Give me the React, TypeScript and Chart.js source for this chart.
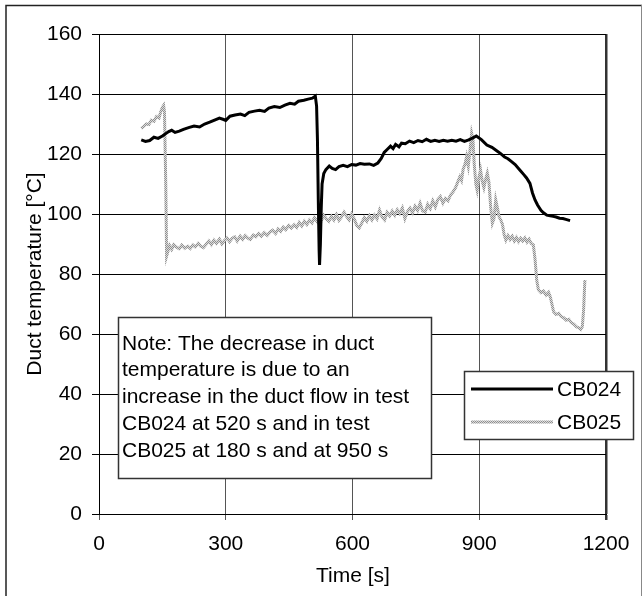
import React, { useEffect, useRef } from "react";
import { Chart, registerables } from "chart.js";

Chart.register(...registerables);

const cb024Time = [
  100, 110, 120, 130, 140, 150, 158, 165, 172, 180, 190, 200, 212, 225, 238, 250, 262, 275, 285, 295,
  300, 310, 322, 335, 345, 355, 368, 380, 392, 402, 415, 428, 440, 452, 463, 472, 485, 495, 505, 512,
  515, 517, 519, 521, 522, 524, 526, 528, 532, 537, 545, 552, 560, 568, 578, 588, 598, 608, 618, 628,
  640, 650, 660, 668, 675, 682, 690, 696, 702, 710, 716, 725, 735, 745, 755, 765, 775, 785, 795, 805,
  815, 825, 835, 845, 855, 865, 875, 885, 893, 905, 918, 930, 942, 950, 960, 968, 975, 985, 996, 1005,
  1012, 1020, 1026, 1032, 1038, 1046, 1052, 1060, 1068, 1075, 1082, 1090, 1098, 1105, 1115,
];
const cb024Temp = [
  124.7, 124.2, 124.5, 125.6, 125.2, 126.0, 126.8, 127.5, 127.9, 127.2, 127.6, 128.2, 128.8, 129.3, 129.0, 130.0, 130.6, 131.4, 132.0, 131.5,
  131.2, 132.6, 133.0, 133.3, 132.8, 133.9, 134.3, 134.6, 134.2, 135.3, 135.8, 135.5, 136.3, 136.9, 136.6, 137.6, 137.9, 138.3, 138.6, 139.3,
  136.0, 125.0, 105.0, 88.0, 83.0, 90.0, 102.0, 110.0, 113.5, 114.8, 116.0, 115.2, 114.8, 115.8, 116.2, 115.8, 116.5, 116.3, 116.8, 116.6,
  116.7, 116.2, 117.0, 118.5, 120.5, 121.5, 122.6, 121.8, 123.2, 122.4, 123.6, 123.4, 124.3, 123.8, 124.5, 124.1, 124.9, 124.2, 124.6, 124.2,
  124.6, 124.3, 124.6, 124.3, 124.8, 124.2, 124.7, 125.4, 126.0, 124.8, 123.0, 122.2, 121.0, 120.2, 119.0, 118.4, 117.6, 116.5, 114.7, 113.2,
  112.0, 110.2, 107.0, 104.7, 103.0, 101.2, 100.4, 99.6, 99.4, 99.2, 99.0, 98.6, 98.5, 98.2, 97.8,
];

const cb025Time = [
  100, 106, 112, 118, 124, 130, 136, 142, 146, 150, 153, 155, 158, 160, 163, 167, 172, 177, 183, 190,
  196, 203, 210, 216, 222, 228, 235, 241, 247, 254, 260, 266, 272, 278, 285, 291, 297, 303, 309, 315,
  321, 327, 334, 340, 346, 352, 358, 365, 371, 378, 384, 391, 398, 405, 411, 418, 424, 430, 436, 442,
  449, 455, 462, 468, 474, 480, 486, 492, 498, 504, 510, 516, 522, 527, 532, 538, 544, 550, 556, 562,
  568, 574, 580, 586, 592, 598, 604, 610, 616, 622, 628, 634, 640, 646, 652, 658, 664, 670, 676, 682,
  688, 694, 700, 706, 712, 718, 724, 730, 736, 742, 748, 754, 760, 766, 772, 778, 784, 790, 796, 802,
  808, 814, 820, 826, 832, 838, 844, 850, 854, 858, 862, 866, 870, 874, 878, 882, 885, 888, 892, 895,
  899, 903, 907, 911, 915, 919, 923, 927, 931, 935, 939, 943, 947, 951, 955, 959, 963, 968, 973, 978,
  983, 988, 993, 998, 1003, 1008, 1013, 1018, 1023, 1028, 1032, 1036, 1040, 1046, 1052, 1058, 1064, 1068, 1072, 1076,
  1082, 1088, 1094, 1100, 1106, 1112, 1118, 1124, 1130, 1136, 1140, 1144, 1147, 1150,
];
const cb025Temp = [
  128.5, 129.2, 130.0, 129.8, 131.3, 130.9, 132.5, 132.0, 134.0, 135.5, 136.2, 134.0, 110.0, 86.0, 87.5, 89.5, 88.2, 89.8, 89.0, 88.4,
  89.6, 88.6, 89.3, 88.5, 89.7, 89.0, 90.2, 89.2, 88.8, 90.0, 91.0, 89.8, 91.3, 90.2, 91.6, 90.0, 91.2, 92.0, 90.8, 91.9,
  92.4, 91.0, 92.6, 91.5, 92.8, 92.0, 91.5, 93.0, 92.4, 93.5, 92.6, 93.8, 92.9, 94.0, 94.6, 93.5, 95.0, 94.2, 95.6, 94.8,
  96.2, 95.3, 96.4, 95.5, 97.2, 96.0, 97.6, 96.5, 98.0, 97.0, 98.8, 97.5, 99.4, 98.0, 99.6, 98.4, 97.6, 99.2, 98.0, 99.8,
  97.9, 99.0, 100.6, 99.2, 98.0, 100.0, 98.4, 96.2, 95.4, 97.0, 98.8, 97.6, 99.4, 98.0, 99.6, 98.4, 101.3, 99.0, 98.0, 100.6,
  99.4, 101.0, 99.6, 101.4, 100.2, 102.0, 98.5, 100.8, 102.0, 100.4, 102.6, 101.2, 103.6, 101.0, 100.6, 103.2, 101.8, 104.4, 102.4, 104.8,
  105.8, 103.6, 105.2, 104.4, 106.3, 107.4, 108.8, 111.0, 112.4, 111.2, 115.0, 116.5, 119.1, 116.0, 121.0, 126.9, 125.0, 116.9, 110.0, 108.0,
  112.0, 114.7, 111.0, 108.8, 111.5, 113.6, 110.5, 102.4, 96.9, 98.5, 104.7, 102.0, 99.1, 98.0, 96.5, 93.0, 91.3, 92.8, 91.5, 92.6,
  91.0, 92.2, 90.8, 91.9, 91.0, 92.0, 90.6, 91.6, 90.2, 89.7, 85.0, 78.0, 74.7, 73.8, 74.3, 73.0, 73.9, 72.4, 70.0, 67.4,
  66.5, 66.9, 65.8, 65.4, 64.6, 64.9, 63.8, 63.3, 62.4, 62.0, 61.5, 62.5, 68.0, 78.0,
];

const seriesNames = ["CB024", "CB025"];
const xTicks = [0, 300, 600, 900, 1200];
const yTicks = [0, 20, 40, 60, 80, 100, 120, 140, 160];
const xTitle = "Time [s]";
const yTitle = "Duct temperature [°C]";
const noteLines = [
  "Note: The decrease in duct",
  "temperature is due to an",
  "increase in the duct flow in test",
  "CB024 at 520 s and in test",
  "CB025 at 180 s and at 950 s",
];

const FONT = 'Arial, "Liberation Sans", sans-serif';

function makePattern(): CanvasPattern | string {
  const c = document.createElement("canvas");
  c.width = 2;
  c.height = 2;
  const g = c.getContext("2d");
  if (!g) return "#aaaaaa";
  g.fillStyle = "#dcdcdc";
  g.fillRect(0, 0, 2, 2);
  g.fillStyle = "#8f8f8f";
  g.fillRect(0, 0, 1, 1);
  g.fillRect(1, 1, 1, 1);
  const ctx = document.createElement("canvas").getContext("2d");
  const p = ctx ? ctx.createPattern(c, "repeat") : null;
  return p || "#aaaaaa";
}

export default function App() {
  const ref = useRef<HTMLCanvasElement | null>(null);

  useEffect(() => {
    document.body.style.margin = "0";
    const canvas = ref.current;
    if (!canvas) return;
    const pattern = makePattern();

    const extras = {
      id: "extras",
      afterDraw(chart: any) {
        const ctx = chart.ctx as CanvasRenderingContext2D;
        ctx.save();
        // outer frame
        ctx.strokeStyle = "#222";
        ctx.lineWidth = 1.5;
        ctx.beginPath();
        ctx.moveTo(6, 600);
        ctx.lineTo(6, 5.5);
        ctx.lineTo(642, 5.5);
        ctx.stroke();
        ctx.strokeStyle = "#888";
        ctx.lineWidth = 1;
        ctx.beginPath();
        ctx.moveTo(641.5, 5);
        ctx.lineTo(641.5, 600);
        ctx.stroke();

        // axis titles
        ctx.fillStyle = "#000";
        ctx.font = `21px ${FONT}`;
        ctx.textAlign = "center";
        ctx.textBaseline = "alphabetic";
        ctx.fillText(xTitle, 353, 582);
        ctx.save();
        ctx.translate(41, 274);
        ctx.rotate(-Math.PI / 2);
        ctx.fillText(yTitle, 0, 0);
        ctx.restore();

        // note box
        ctx.fillStyle = "#fff";
        ctx.fillRect(118, 317, 313, 161);
        ctx.strokeStyle = "#333";
        ctx.lineWidth = 1.5;
        ctx.strokeRect(118.5, 317.5, 313, 161);
        ctx.fillStyle = "#000";
        ctx.textAlign = "left";
        ctx.font = `21px ${FONT}`;
        noteLines.forEach((line, i) => {
          ctx.fillText(line, 122, 349.5 + i * 26.8);
        });

        // legend
        ctx.fillStyle = "#fff";
        ctx.fillRect(464, 371, 169, 68);
        ctx.strokeStyle = "#333";
        ctx.lineWidth = 1.5;
        ctx.strokeRect(464.5, 371.5, 169, 68);
        const rows = [389, 422];
        seriesNames.forEach((name, i) => {
          const y = rows[i];
          ctx.beginPath();
          ctx.moveTo(471, y);
          ctx.lineTo(553, y);
          if (i === 0) {
            ctx.strokeStyle = "#000";
            ctx.lineWidth = 3;
          } else {
            ctx.strokeStyle = pattern as any;
            ctx.lineWidth = 3;
          }
          ctx.stroke();
          ctx.fillStyle = "#000";
          ctx.textBaseline = "middle";
          ctx.fillText(name, 557, y + 1);
        });
        ctx.restore();
      },
    };

    const chart = new Chart(canvas, {
      type: "line",
      data: {
        datasets: [
          {
            label: seriesNames[0],
            data: cb024Time.map((t, i) => ({ x: t, y: cb024Temp[i] })),
            borderColor: "#000",
            borderWidth: 3,
            pointRadius: 0,
            tension: 0,
            order: 1,
          },
          {
            label: seriesNames[1],
            data: cb025Time.map((t, i) => ({ x: t, y: cb025Temp[i] })),
            borderColor: pattern as any,
            borderWidth: 3,
            pointRadius: 0,
            tension: 0,
            order: 2,
          },
        ],
      },
      plugins: [extras],
      options: {
        responsive: false,
        animation: false,
        devicePixelRatio: 1,
        layout: { padding: { top: 34, right: 37, left: 0, bottom: 0 } },
        plugins: { legend: { display: false }, tooltip: { enabled: false } },
        scales: {
          x: {
            type: "linear",
            min: 0,
            max: 1200,
            afterBuildTicks: (s: any) => {
              s.ticks = xTicks.map((v) => ({ value: v }));
            },
            afterFit: (s: any) => {
              s.height = 82;
            },
            ticks: {
              color: "#000",
              font: { family: FONT, size: 21 },
              padding: 12,
              maxRotation: 0,
              callback: (v: any) => String(v),
            },
            grid: {
              color: (c: any) => (c.tick && c.tick.value === 1200 ? "#333" : "#555"),
              lineWidth: (c: any) => (c.tick && c.tick.value === 1200 ? 2.5 : 1),
              tickLength: 6,
            },
            border: { display: true, color: "#000", width: 1 },
          },
          y: {
            type: "linear",
            min: 0,
            max: 160,
            afterBuildTicks: (s: any) => {
              s.ticks = yTicks.map((v) => ({ value: v }));
            },
            afterFit: (s: any) => {
              s.width = 99;
            },
            ticks: {
              color: "#000",
              font: { family: FONT, size: 21 },
              padding: 10,
              callback: (v: any) => String(v),
            },
            grid: { color: "#000", lineWidth: 1, tickLength: 7 },
            border: { display: true, color: "#000", width: 1 },
          },
        },
      },
    });
    return () => chart.destroy();
  }, []);

  return (
    <div style={{ width: 643, height: 596, background: "#fff" }}>
      <canvas ref={ref} width={643} height={596} style={{ display: "block", width: 643, height: 596 }} />
    </div>
  );
}
